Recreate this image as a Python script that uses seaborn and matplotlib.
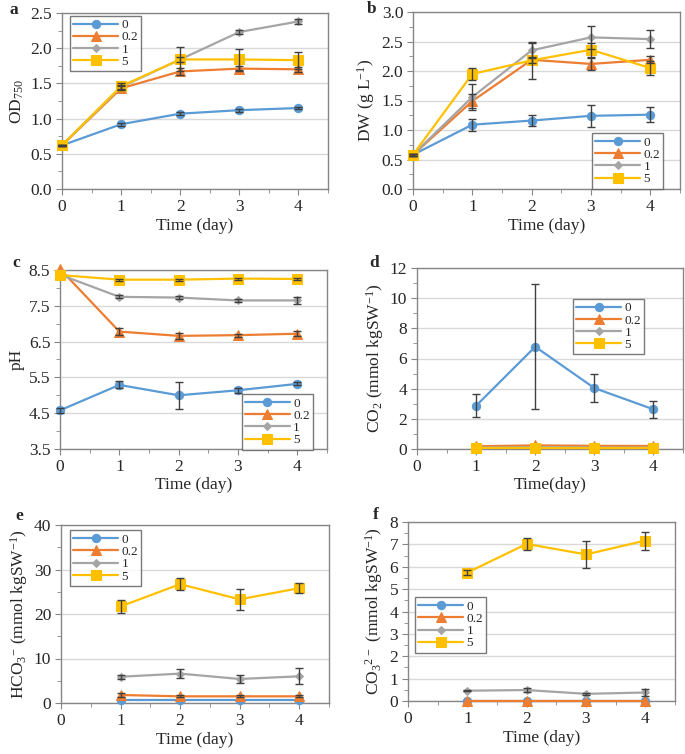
import numpy as np
import pandas as pd
import seaborn as sns
import matplotlib.pyplot as plt
from matplotlib.ticker import MultipleLocator, FormatStrFormatter, FixedLocator

sns.set_style('white')
plt.rcParams['font.family'] = ['Liberation Serif', 'DejaVu Serif']
plt.rcParams['mathtext.default'] = 'regular'

# data
days = [0, 1, 2, 3, 4]
days_c = [1, 2, 3, 4]
conc = ['0', '0.2', '1', '5']

od_0 = [0.62, 0.92, 1.07, 1.12, 1.15]
od_02 = [0.62, 1.43, 1.67, 1.71, 1.70]
od_1 = [0.62, 1.45, 1.84, 2.23, 2.38]
od_5 = [0.62, 1.46, 1.84, 1.84, 1.83]
od_0_err = [0.01, 0.02, 0.02, 0.02, 0.02]
od_02_err = [0.01, 0.03, 0.05, 0.04, 0.04]
od_1_err = [0.01, 0.03, 0.04, 0.03, 0.03]
od_5_err = [0.01, 0.05, 0.17, 0.15, 0.12]

dw_0 = [0.58, 1.09, 1.16, 1.24, 1.26]
dw_02 = [0.58, 1.49, 2.19, 2.12, 2.19]
dw_1 = [0.58, 1.56, 2.35, 2.57, 2.54]
dw_5 = [0.58, 1.95, 2.18, 2.36, 2.05]
dw_0_err = [0.02, 0.10, 0.10, 0.19, 0.13]
dw_02_err = [0.02, 0.12, 0.05, 0.10, 0.06]
dw_1_err = [0.02, 0.22, 0.13, 0.19, 0.15]
dw_5_err = [0.02, 0.10, 0.31, 0.12, 0.12]

ph_ticks = [3.5, 4.5, 5.5, 6.5, 7.5, 8.5]
ph_0 = [4.58, 5.29, 5.00, 5.14, 5.32]
ph_02 = [8.53, 6.78, 6.66, 6.68, 6.72]
ph_1 = [8.37, 7.75, 7.73, 7.65, 7.65]
ph_5 = [8.36, 8.23, 8.23, 8.26, 8.25]
ph_0_err = [0.07, 0.10, 0.38, 0.07, 0.04]
ph_02_err = [0.0, 0.10, 0.08, 0.04, 0.07]
ph_1_err = [0.0, 0.04, 0.04, 0.04, 0.10]
ph_5_err = [0.0, 0.03, 0.03, 0.03, 0.03]

co2_0 = [2.87, 6.78, 4.04, 2.63]
co2_02 = [0.18, 0.24, 0.21, 0.20]
co2_1 = [0.10, 0.12, 0.10, 0.10]
co2_5 = [0.07, 0.07, 0.06, 0.07]
co2_0_err = [0.75, 4.15, 0.92, 0.55]
co2_02_err = [0.0, 0.0, 0.0, 0.0]
co2_1_err = [0.0, 0.0, 0.0, 0.0]
co2_5_err = [0.0, 0.0, 0.0, 0.0]

hco3_0 = [0.6, 0.6, 0.6, 0.6]
hco3_02 = [1.8, 1.5, 1.5, 1.5]
hco3_1 = [5.9, 6.6, 5.4, 6.0]
hco3_5 = [21.7, 26.7, 23.3, 25.8]
hco3_0_err = [0.0, 0.0, 0.0, 0.0]
hco3_02_err = [0.5, 0.2, 0.2, 0.2]
hco3_1_err = [0.4, 1.0, 1.0, 1.8]
hco3_5_err = [1.4, 1.4, 2.3, 1.1]

co3_0 = [0.0, 0.0, 0.0, 0.0]
co3_02 = [0.0, 0.0, 0.0, 0.0]
co3_1 = [0.46, 0.49, 0.32, 0.38]
co3_5 = [5.74, 7.02, 6.55, 7.17]
co3_0_err = [0.0, 0.0, 0.0, 0.0]
co3_02_err = [0.0, 0.0, 0.0, 0.0]
co3_1_err = [0.03, 0.08, 0.03, 0.15]
co3_5_err = [0.12, 0.28, 0.60, 0.40]

colors = ['#5B9BD5', '#ED7D31', '#A5A5A5', '#FFC000']
markers = ['o', '^', 'D', 's']
msizes = [6, 6.5, 4.5, 6.5]

W, H = 685, 754
fig = plt.figure(figsize=(W / 100, H / 100), dpi=100)


def px_rect(l, t, r, b):
    return [l / W, 1 - b / H, (r - l) / W, (b - t) / H]


def panel(rect, x, series, errs, yticks, fmt, ylabel, xlabel, letter, leg_xy):
    ax = fig.add_axes(px_rect(*rect))
    for i, (ys, es) in enumerate(zip(series, errs)):
        df = pd.DataFrame({'day': x, 'val': ys, 'err': es})
        sns.lineplot(data=df, x='day', y='val', ax=ax, color=colors[i],
                     marker=markers[i], markersize=msizes[i],
                     markeredgecolor=colors[i], linewidth=1.6,
                     label=conc[i], clip_on=False, zorder=3 + i)
        e = df[df.err > 0]
        if len(e):
            ax.errorbar(e.day, e.val, yerr=e.err, fmt='none', ecolor='#404040',
                        elinewidth=1, capsize=3, capthick=1, zorder=10, clip_on=False)
    ax.set_xlim(0, 4.5)
    ax.set_ylim(yticks[0], yticks[-1])
    step = yticks[1] - yticks[0]
    ax.xaxis.set_major_locator(MultipleLocator(1))
    ax.xaxis.set_minor_locator(MultipleLocator(0.5))
    ax.yaxis.set_major_locator(FixedLocator(yticks))
    ax.yaxis.set_minor_locator(FixedLocator([t + step / 2 for t in yticks[:-1]]))
    ax.yaxis.set_major_formatter(FormatStrFormatter(fmt))
    ax.grid(axis='y', which='major', color='#D9D9D9', linewidth=1)
    ax.set_axisbelow(True)
    for s in ax.spines.values():
        s.set_color('#868686')
        s.set_linewidth(1)
    ax.tick_params(which='both', direction='out', color='#868686',
                   labelsize=12.5, left=True, bottom=True)
    ax.tick_params(which='major', length=4, pad=3)
    ax.tick_params(which='minor', length=3)
    ax.set_ylabel(ylabel, fontsize=12.5, labelpad=3)
    ax.set_xlabel(xlabel, fontsize=12.5, labelpad=2)
    leg = ax.legend(loc='upper left', bbox_to_anchor=leg_xy, borderaxespad=0,
                    fontsize=9.5, frameon=True, fancybox=False, edgecolor='#595959',
                    handlelength=3.4, labelspacing=0.0, borderpad=0.25,
                    handletextpad=0.25, markerscale=1.0)
    leg.get_frame().set_linewidth(1)
    leg.set_zorder(20)
    fig.text(letter[1] / W, 1 - letter[2] / H, letter[0], fontsize=12.5,
             fontweight='bold', ha='left', va='center')
    return ax


panel((62, 13, 328, 189), days, [od_0, od_02, od_1, od_5],
      [od_0_err, od_02_err, od_1_err, od_5_err], [0, 0.5, 1.0, 1.5, 2.0, 2.5], '%.1f',
      'OD$_{750}$', 'Time (day)', ('a', 10, 10), (0.03, 0.985))
panel((413, 12, 680, 189), days, [dw_0, dw_02, dw_1, dw_5],
      [dw_0_err, dw_02_err, dw_1_err, dw_5_err], [0, 0.5, 1.0, 1.5, 2.0, 2.5, 3.0], '%.1f',
      'DW (g L$^{-1}$)', 'Time (day)', ('b', 367, 9), (0.67, 0.316))
panel((60, 270, 327, 449), days, [ph_0, ph_02, ph_1, ph_5],
      [ph_0_err, ph_02_err, ph_1_err, ph_5_err], ph_ticks, '%.1f',
      'pH', 'Time (day)', ('c', 12, 263), (0.68, 0.307))
panel((417, 268, 683, 449), days_c, [co2_0, co2_02, co2_1, co2_5],
      [co2_0_err, co2_02_err, co2_1_err, co2_5_err], [0, 2, 4, 6, 8, 10, 12], '%d',
      'CO$_2$ (mmol kgSW$^{-1}$)', 'Time(day)', ('d', 369, 263), (0.586, 0.83))
panel((61, 525, 329, 703), days_c, [hco3_0, hco3_02, hco3_1, hco3_5],
      [hco3_0_err, hco3_02_err, hco3_1_err, hco3_5_err], [0, 10, 20, 30, 40], '%d',
      'HCO$_3$$^{-}$ (mmol kgSW$^{-1}$)', 'Time (day)', ('e', 15, 516), (0.034, 0.97))
panel((408, 522, 675, 701), days_c, [co3_0, co3_02, co3_1, co3_5],
      [co3_0_err, co3_02_err, co3_1_err, co3_5_err], [0, 1, 2, 3, 4, 5, 6, 7, 8], '%d',
      'CO$_3$$^{2-}$ (mmol kgSW$^{-1}$)', 'Time (day)', ('f', 373, 515), (0.026, 0.58))

fig.savefig('out.png', dpi=100)
